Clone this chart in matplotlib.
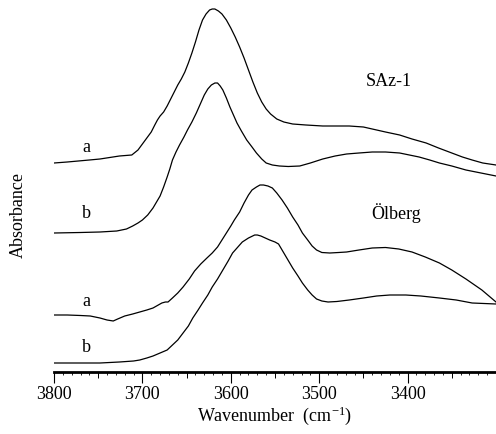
import matplotlib
matplotlib.use("Agg")
import matplotlib.pyplot as plt
from matplotlib.ticker import MultipleLocator, NullFormatter

plt.rcParams['font.family'] = ['Liberation Serif', 'DejaVu Serif']
plt.rcParams['mathtext.fontset'] = 'custom'
plt.rcParams['mathtext.rm'] = 'Liberation Serif'
plt.rcParams['mathtext.it'] = 'Liberation Serif:italic'

# ---- data (wavenumber in cm^-1, absorbance in arbitrary offset units) ----
saz_a_wn = [3800, 3785, 3760, 3748, 3726, 3712, 3705, 3700, 3695, 3690, 3686, 3683,
            3680, 3676, 3672, 3668, 3664, 3660, 3656, 3652, 3648, 3644, 3640, 3636,
            3632, 3628, 3624, 3621, 3618, 3614, 3610, 3605, 3600, 3595, 3590, 3585,
            3580, 3575, 3570, 3565, 3560, 3555, 3548, 3540, 3530, 3515, 3496, 3480,
            3466, 3450, 3440, 3425, 3409, 3395, 3379, 3365, 3350, 3338, 3327, 3315,
            3300]
saz_a_abs = [2.09, 2.10, 2.12, 2.13, 2.16, 2.17, 2.22, 2.28, 2.34, 2.40, 2.47, 2.52,
             2.56, 2.60, 2.66, 2.73, 2.80, 2.87, 2.93, 3.00, 3.09, 3.19, 3.30, 3.42,
             3.52, 3.58, 3.62, 3.63, 3.63, 3.61, 3.58, 3.52, 3.44, 3.35, 3.25, 3.14,
             3.02, 2.90, 2.79, 2.70, 2.63, 2.58, 2.53, 2.50, 2.48, 2.47, 2.46, 2.46,
             2.46, 2.45, 2.43, 2.40, 2.37, 2.33, 2.29, 2.24, 2.19, 2.15, 2.12, 2.09,
             2.07]

saz_b_wn = [3800, 3770, 3748, 3729, 3718, 3711, 3705, 3700, 3694, 3688, 3684, 3680,
            3676, 3672, 3669, 3666, 3662, 3658, 3653, 3649, 3644, 3639, 3634, 3630,
            3626, 3622, 3618, 3615, 3612, 3609, 3605, 3601, 3597, 3593, 3588, 3582,
            3576, 3571, 3565, 3560, 3553, 3545, 3535, 3522, 3510, 3496, 3482, 3469,
            3455, 3440, 3425, 3409, 3398, 3387, 3375, 3364, 3350, 3334, 3317, 3300]
saz_b_abs = [1.39, 1.395, 1.40, 1.41, 1.43, 1.46, 1.49, 1.52, 1.57, 1.64, 1.70, 1.76,
             1.85, 1.95, 2.03, 2.12, 2.20, 2.27, 2.35, 2.42, 2.50, 2.59, 2.69, 2.77,
             2.83, 2.87, 2.89, 2.89, 2.86, 2.82, 2.74, 2.65, 2.57, 2.49, 2.41, 2.32,
             2.25, 2.19, 2.13, 2.09, 2.07, 2.06, 2.055, 2.06, 2.09, 2.13, 2.16, 2.18,
             2.19, 2.20, 2.20, 2.19, 2.17, 2.15, 2.12, 2.09, 2.06, 2.02, 1.99, 1.96]

olb_a_wn = [3800, 3785, 3770, 3759, 3748, 3740, 3733, 3728, 3720, 3711, 3703, 3695,
            3688, 3682, 3678, 3674, 3671, 3666, 3660, 3654, 3647, 3641, 3634, 3627,
            3621, 3615, 3610, 3605, 3600, 3596, 3590, 3585, 3580, 3576, 3571, 3567,
            3563, 3558, 3553, 3548, 3542, 3536, 3530, 3524, 3519, 3513, 3508, 3503,
            3497, 3488, 3478, 3469, 3455, 3440, 3425, 3410, 3395, 3380, 3364, 3350,
            3334, 3316, 3300]
olb_a_abs = [0.57, 0.57, 0.565, 0.56, 0.54, 0.52, 0.51, 0.53, 0.56, 0.58, 0.60, 0.62,
             0.64, 0.67, 0.69, 0.70, 0.70, 0.74, 0.79, 0.85, 0.93, 1.01, 1.08, 1.14,
             1.19, 1.25, 1.32, 1.39, 1.46, 1.52, 1.60, 1.69, 1.77, 1.82, 1.85, 1.87,
             1.87, 1.86, 1.84, 1.79, 1.72, 1.64, 1.55, 1.47, 1.39, 1.32, 1.26, 1.22,
             1.195, 1.19, 1.195, 1.20, 1.22, 1.24, 1.245, 1.23, 1.20, 1.15, 1.09, 1.02,
             0.93, 0.82, 0.70]

olb_b_wn = [3800, 3770, 3748, 3726, 3710, 3703, 3695, 3688, 3680, 3672, 3666, 3660,
            3654, 3648, 3643, 3637, 3632, 3626, 3621, 3615, 3609, 3603, 3598, 3592,
            3587, 3580, 3573, 3570, 3566, 3561, 3556, 3550, 3546, 3542, 3536, 3530,
            3524, 3519, 3513, 3508, 3503, 3497, 3490, 3480, 3466, 3450, 3435, 3420,
            3402, 3385, 3364, 3345, 3327, 3300]
olb_b_abs = [0.09, 0.09, 0.09, 0.10, 0.11, 0.12, 0.14, 0.16, 0.19, 0.22, 0.27, 0.32,
             0.39, 0.46, 0.54, 0.62, 0.69, 0.77, 0.85, 0.93, 1.02, 1.11, 1.19, 1.25,
             1.30, 1.34, 1.37, 1.37, 1.36, 1.34, 1.32, 1.30, 1.28, 1.22, 1.13, 1.04,
             0.96, 0.89, 0.82, 0.77, 0.73, 0.71, 0.70, 0.705, 0.72, 0.74, 0.76, 0.77,
             0.77, 0.76, 0.74, 0.72, 0.69, 0.68]

major_ticks = [3800, 3700, 3600, 3500, 3400]
tick_labels = ['3800', '3700', '3600', '3500', '3400']
mid_ticks = [3750, 3650, 3550, 3450, 3350]

W, H = 496, 434
fig = plt.figure(figsize=(W / 100, H / 100), dpi=100)
ax = fig.add_axes([54 / W, 62 / H, (W - 54) / W, 372 / H])

for wn, ab in [(saz_a_wn, saz_a_abs), (saz_b_wn, saz_b_abs),
               (olb_a_wn, olb_a_abs), (olb_b_wn, olb_b_abs)]:
    ax.plot(wn, ab, color='black', lw=0.9, solid_joinstyle='round')

ax.set_xlim(3800, 3300)
ax.set_ylim(0, 3.72)

for s in ['top', 'left', 'right']:
    ax.spines[s].set_visible(False)
ax.spines['bottom'].set_linewidth(2.0)
ax.set_yticks([])
ax.set_xticks(major_ticks)
ax.set_xticklabels(tick_labels, fontsize=13)
ax.xaxis.set_minor_locator(MultipleLocator(10))
ax.tick_params(axis='x', which='major', direction='out', length=8, width=0.8, pad=2)
ax.tick_params(axis='x', which='minor', direction='out', length=2.5, width=0.6)

sec = ax.secondary_xaxis('bottom')
sec.set_xticks(mid_ticks)
sec.xaxis.set_major_formatter(NullFormatter())
sec.tick_params(axis='x', direction='out', length=4.5, width=0.7)
sec.spines['bottom'].set_visible(False)

ax.set_xlabel('Wavenumber  (cm$^{\\mathregular{-1}}$)', fontsize=13, labelpad=1)
fig.text(18 / W, 1 - 215 / H, 'Absorbance', rotation=90, fontsize=13,
         ha='center', va='center')

ax.text(3421, 2.90, 'SAz-1', fontsize=13, ha='center', va='center')
ax.text(3413, 1.59, 'Ölberg', fontsize=13, ha='center', va='center')
ax.text(3763, 2.25, 'a', fontsize=13, ha='center', va='center')
ax.text(3763, 1.59, 'b', fontsize=13, ha='center', va='center')
ax.text(3763, 0.70, 'a', fontsize=13, ha='center', va='center')
ax.text(3763, 0.24, 'b', fontsize=13, ha='center', va='center')

fig.savefig('out.png', dpi=100)
